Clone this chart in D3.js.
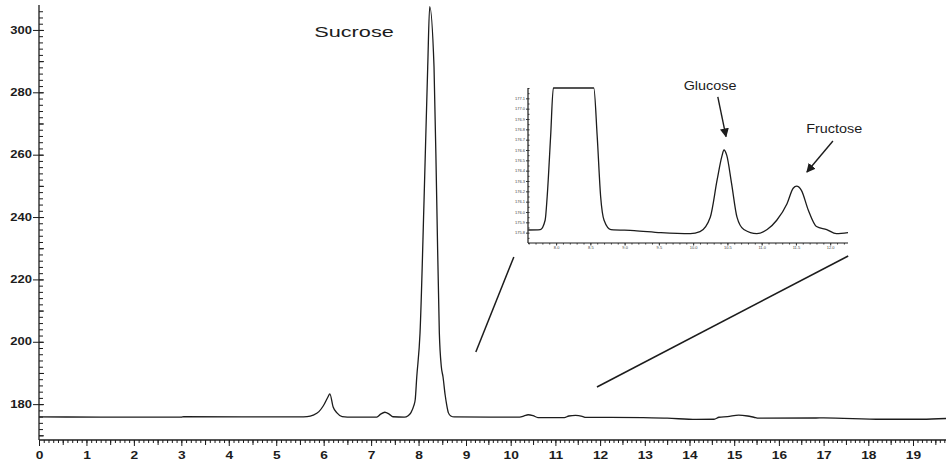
<!DOCTYPE html>
<html>
<head>
<meta charset="utf-8">
<script src="https://cdn.jsdelivr.net/npm/d3@7"></script>
<style>
  body { margin: 0; background: #fff; }
  text { font-family: "Liberation Sans", Arial, sans-serif; }
</style>
</head>
<body>
<svg id="chart"></svg>
<script>
// main chromatogram trace (time in min, detector signal)
const mainTime = [0, 1.3, 3.0, 3.05, 5.5, 5.65, 5.78, 5.9, 5.99, 6.09, 6.13, 6.2, 6.28, 6.39, 6.5,
  7.12, 7.2, 7.29, 7.38, 7.46, 7.7, 7.78, 7.84, 7.9, 7.93, 7.962, 8.031, 8.116, 8.193, 8.235,
  8.326, 8.383, 8.438, 8.48, 8.516, 8.56, 8.594, 8.63, 8.68, 8.75, 10.2, 10.3, 10.39, 10.5, 10.61,
  11.2, 11.3, 11.45, 11.6, 11.68, 12.96, 13.5, 14.15, 14.55, 14.66, 14.85, 15.1, 15.3, 15.44,
  15.55, 16.83, 17.0, 18.3, 19.2, 19.74];
const mainSignal = [175.9, 175.85, 175.85, 175.95, 175.9, 176.0, 176.5, 177.6, 179.4, 182.3, 183.3, 179.1, 177.2, 176.0, 175.85,
  175.85, 176.8, 177.4, 176.8, 175.95, 175.85, 176.3, 177.3, 179.5, 181.5, 188.7, 202.8, 245.5, 288.1, 307.5,
  288.1, 245.5, 202.8, 192.0, 188.7, 183.0, 179.7, 177.2, 176.2, 175.9, 175.85, 176.2, 176.6, 176.3, 175.7,
  175.7, 176.2, 176.4, 176.1, 175.75, 175.7, 175.5, 175.1, 175.15, 175.8, 176.0, 176.5, 176.2, 175.8,
  175.5, 175.55, 175.6, 175.15, 175.15, 175.4];

// magnified trace shown in the inset
const insetTime = [7.594, 7.77, 7.84, 7.87, 7.92, 7.96, 8.235, 8.55, 8.60, 8.65, 8.70, 8.80, 9.14, 9.53,
  9.96, 10.10, 10.25, 10.35, 10.42, 10.45, 10.49, 10.56, 10.64, 10.74, 10.93, 11.08, 11.22, 11.37,
  11.46, 11.51, 11.58, 11.68, 11.80, 11.95, 12.09, 12.26];
const insetSignal = [175.826, 175.83, 175.92, 176.15, 176.73, 178.0, 307.5, 178.0, 176.73, 176.15, 175.92, 175.83, 175.82, 175.80,
  175.79, 175.81, 175.95, 176.31, 176.54, 176.60, 176.55, 176.28, 175.95, 175.83, 175.79, 175.83, 175.92, 176.08,
  176.23, 176.25, 176.21, 176.02, 175.86, 175.83, 175.79, 175.80];

const xTickLabels = d3.range(0, 20);
const yTickLabels = [180, 200, 220, 240, 260, 280, 300];
const insetXTickLabels = ['8.0', '8.5', '9.0', '9.5', '10.0', '10.5', '11.0', '11.5', '12.0'];
const insetYTickLabels = ['175.8', '175.9', '176.0', '176.1', '176.2', '176.3', '176.4', '176.5',
  '176.6', '176.7', '176.8', '176.9', '177.0', '177.1'];

const peakNames = ['Sucrose', 'Glucose', 'Fructose'];

const w = 946;
const h = 464;
const svg = d3.select('#chart').attr('width', w).attr('height', h);

const x = d3.scaleLinear().domain([0, 9, 19]).range([39, 466, 913]);
const y = d3.scaleLinear().domain([168.5, 308]).range([440, 5]);

const insetX = d3.scaleLinear().domain([7.59, 12.26]).range([528, 848]);
const insetY = d3.scaleLinear().domain([175.7, 177.2]).range([243, 88]).clamp(true);

const ink = '#1c1c1c';

// ---- main x axis
const xAxisG = svg.append('g').attr('transform', `translate(0,${y(168.5)})`).attr('color', ink);
xAxisG.append('line').attr('x1', x(0)).attr('x2', w).attr('stroke', ink).attr('stroke-width', 1.3);
xAxisG.append('g')
  .call(d3.axisBottom(x).tickValues(d3.range(0, 198).map((i) => i / 10)).tickSize(3).tickFormat(''));
xAxisG.append('g')
  .call(d3.axisBottom(x).tickValues(d3.range(0, 20).map((i) => i + 0.5)).tickSize(5).tickFormat(''));
xAxisG.append('g')
  .call(d3.axisBottom(x).tickValues(xTickLabels).tickSize(6).tickPadding(5))
  .selectAll('text')
  .attr('font-size', 11)
  .attr('font-weight', 'bold')
  .attr('transform', 'scale(1.25,1)');
xAxisG.selectAll('.domain').remove();

// ---- main y axis
const yAxisG = svg.append('g').attr('transform', `translate(${x(0)},0)`).attr('color', ink);
yAxisG.append('line').attr('y1', y(308)).attr('y2', y(168.5)).attr('stroke', ink).attr('stroke-width', 1.3);
yAxisG.append('g')
  .call(d3.axisRight(y).tickValues(d3.range(170, 308, 2)).tickSize(4).tickFormat(''));
yAxisG.append('g')
  .call(d3.axisRight(y).tickValues(d3.range(170, 308, 10)).tickSize(5).tickFormat(''));
yAxisG.append('g')
  .call(d3.axisLeft(y).tickValues(yTickLabels).tickSize(6).tickPadding(1))
  .selectAll('text')
  .attr('font-size', 10)
  .attr('font-weight', 'bold')
  .attr('x', -7 / 1.3)
  .attr('transform', 'scale(1.3,1)');
yAxisG.selectAll('.domain').remove();

// ---- main trace
const mainPoints = mainTime.map((t, i) => [t, mainSignal[i]]);
svg.append('path')
  .datum(mainPoints)
  .attr('fill', 'none')
  .attr('stroke', ink)
  .attr('stroke-width', 1.3)
  .attr('d', d3.line().x((d) => x(d[0])).y((d) => y(d[1])).curve(d3.curveMonotoneX));

svg.append('text')
  .attr('transform', `translate(${x(6.64)},${y(297.6)}) scale(1.4,1)`)
  .attr('text-anchor', 'middle')
  .attr('font-size', 15.5)
  .attr('fill', ink)
  .text(peakNames[0]);

// ---- connector lines from inset to main trace
const connectors = [
  [[10.07, 227.2], [9.22, 196.7]],
  [[17.55, 227.5], [11.93, 185.5]],
];
svg.selectAll('.connector')
  .data(connectors)
  .enter()
  .append('line')
  .attr('class', 'connector')
  .attr('x1', (d) => x(d[0][0]))
  .attr('y1', (d) => y(d[0][1]))
  .attr('x2', (d) => x(d[1][0]))
  .attr('y2', (d) => y(d[1][1]))
  .attr('stroke', ink)
  .attr('stroke-width', 1.5);

// ---- inset
const inset = svg.append('g').attr('color', '#333');
const insetXAxis = inset.append('g').attr('transform', `translate(0,${insetY(175.7)})`);
insetXAxis.append('line').attr('x1', insetX(7.59)).attr('x2', insetX(12.26)).attr('stroke', ink).attr('stroke-width', 1.2);
insetXAxis.append('g')
  .call(d3.axisBottom(insetX).tickValues(d3.range(76, 123).map((i) => i / 10)).tickSize(1.5).tickFormat(''));
insetXAxis.append('g')
  .call(d3.axisBottom(insetX).tickValues(insetXTickLabels.map(Number)).tickSize(2.5).tickPadding(1)
    .tickFormat((d, i) => insetXTickLabels[i]))
  .selectAll('text')
  .attr('font-size', 4)
  .attr('fill', '#444');
insetXAxis.selectAll('.domain').remove();

const insetYAxis = inset.append('g').attr('transform', `translate(${insetX(7.59)},0)`);
insetYAxis.append('line').attr('y1', insetY(177.2)).attr('y2', insetY(175.7)).attr('stroke', ink).attr('stroke-width', 1.2);
insetYAxis.append('g')
  .call(d3.axisRight(insetY).tickValues(d3.range(0, 31).map((i) => 175.7 + i * 0.05)).tickSize(1.5).tickFormat(''));
insetYAxis.append('g')
  .call(d3.axisLeft(insetY).tickValues(insetYTickLabels.map(Number)).tickSize(2).tickPadding(1)
    .tickFormat((d, i) => insetYTickLabels[i]))
  .selectAll('text')
  .attr('font-size', 4)
  .attr('fill', '#444');
insetYAxis.selectAll('.domain').remove();

const insetPoints = insetTime.map((t, i) => [t, insetSignal[i]]);
inset.append('path')
  .datum(insetPoints)
  .attr('fill', 'none')
  .attr('stroke', ink)
  .attr('stroke-width', 1.3)
  .attr('d', d3.line().x((d) => insetX(d[0])).y((d) => insetY(d[1])).curve(d3.curveMonotoneX));

// arrowheads
const defs = svg.append('defs');
defs.append('marker')
  .attr('id', 'head')
  .attr('viewBox', '0 0 10 10')
  .attr('refX', 9)
  .attr('refY', 5)
  .attr('markerWidth', 9)
  .attr('markerHeight', 9)
  .attr('markerUnits', 'userSpaceOnUse')
  .attr('orient', 'auto')
  .append('path')
  .attr('d', 'M0,0L10,5L0,10z')
  .attr('fill', ink);

const labels = [
  { name: peakNames[1], t: 10.247, v: 177.18, anchor: 'middle', from: [10.36, 177.115], to: [10.48, 176.73] },
  { name: peakNames[2], t: 11.65, v: 176.765, anchor: 'start', from: [12.04, 176.687], to: [11.66, 176.387] },
];
const ann = inset.selectAll('.ann').data(labels).enter().append('g').attr('class', 'ann');
ann.append('text')
  .attr('transform', (d) => `translate(${insetX(d.t)},${insetY(d.v)}) scale(1.2,1)`)
  .attr('text-anchor', (d) => d.anchor)
  .attr('font-size', 12)
  .attr('fill', ink)
  .text((d) => d.name);
ann.append('line')
  .attr('x1', (d) => insetX(d.from[0]))
  .attr('y1', (d) => insetY(d.from[1]))
  .attr('x2', (d) => insetX(d.to[0]))
  .attr('y2', (d) => insetY(d.to[1]))
  .attr('stroke', ink)
  .attr('stroke-width', 1.4)
  .attr('marker-end', 'url(#head)');
</script>
</body>
</html>
